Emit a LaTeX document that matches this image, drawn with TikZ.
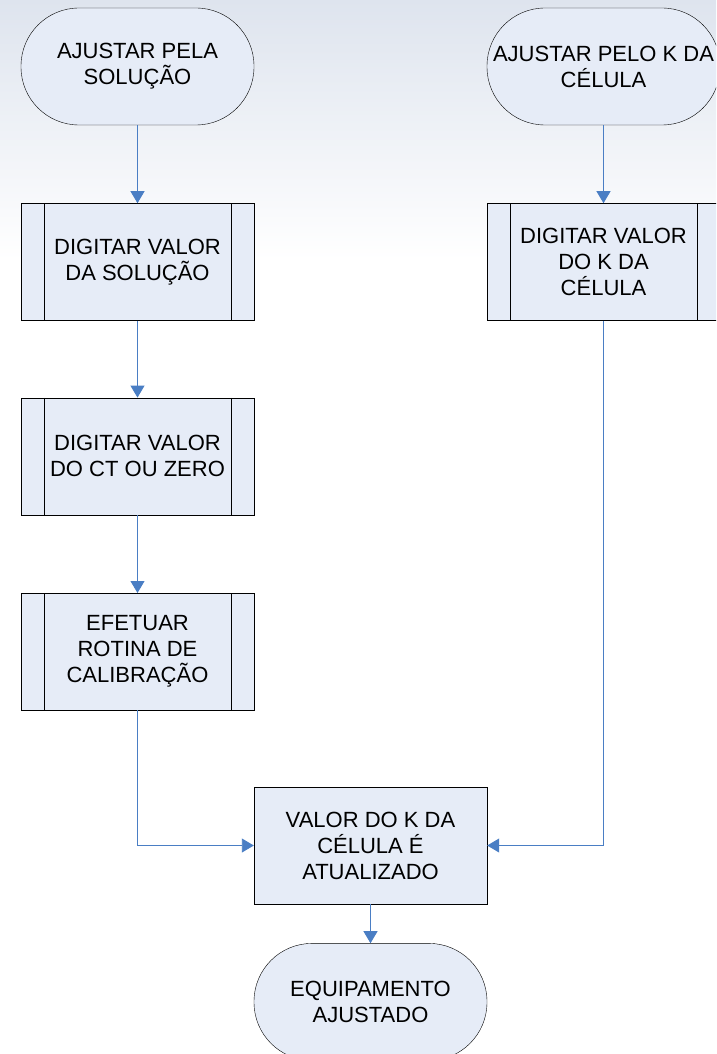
\documentclass[tikz,border=0pt]{standalone}
\usepackage{fontspec}
\setmainfont{Liberation Sans}
\usetikzlibrary{positioning,shapes,arrows.meta,calc}

\definecolor{caixa}{RGB}{230,236,247}
\definecolor{seta}{RGB}{74,126,196}
\definecolor{fundo}{RGB}{222,228,238}

\tikzset{
    terminal/.style={rectangle,draw,fill=caixa,rounded corners=58pt,minimum width=233pt,minimum height=117pt,align=center,font=\fontsize{22}{26}\selectfont},
    processo/.style={rectangle,draw,fill=caixa,minimum width=233pt,minimum height=117pt,align=center,font=\fontsize{22}{26}\selectfont},
    subproc/.style={processo,path picture={
        \draw ([xshift=23pt]path picture bounding box.north west) -- ([xshift=23pt]path picture bounding box.south west);
        \draw ([xshift=-23pt]path picture bounding box.north east) -- ([xshift=-23pt]path picture bounding box.south east);}},
    liga/.style={draw=seta,line width=0.9pt,-{Triangle[width=14pt,length=12pt]}}
}

\begin{document}
\begin{tikzpicture}[x=1pt,y=1pt]
            \path[use as bounding box,clip] (0,0) rectangle (716,-1054);
            \shade[top color=fundo,bottom color=white] (0,0) rectangle (716,-260);
            \node[terminal] (ajsol) at (137.5,-66.5) {AJUSTAR PELA\\SOLUÇÃO};
            \node[terminal] (ajk) at (603.5,-66.5) {AJUSTAR PELO K DA\\CÉLULA};
            \node[subproc,below=78pt of ajsol] (digsol) {DIGITAR VALOR\\DA SOLUÇÃO};
            \node[subproc,below=77pt of digsol] (digct) {DIGITAR VALOR\\DO CT OU ZERO};
            \node[subproc,below=78pt of digct] (calib) {EFETUAR\\ROTINA DE\\CALIBRAÇÃO};
            \node[subproc,below=78pt of ajk] (digk) {DIGITAR VALOR\\DO K DA\\CÉLULA};
            \node[processo] (atual) at (370.5,-845.5) {VALOR DO K DA\\CÉLULA É\\ATUALIZADO};
            \node[terminal,below=39pt of atual] (fim) {EQUIPAMENTO\\AJUSTADO};
            \draw[liga] (ajsol) -- (digsol);
            \draw[liga] (digsol) -- (digct);
            \draw[liga] (digct) -- (calib);
            \draw[liga] (calib) |- (atual);
            \draw[liga] (ajk) -- (digk);
            \draw[liga] (digk) |- (atual);
            \draw[liga] (atual) -- (fim);
        \end{tikzpicture}
\end{document}
